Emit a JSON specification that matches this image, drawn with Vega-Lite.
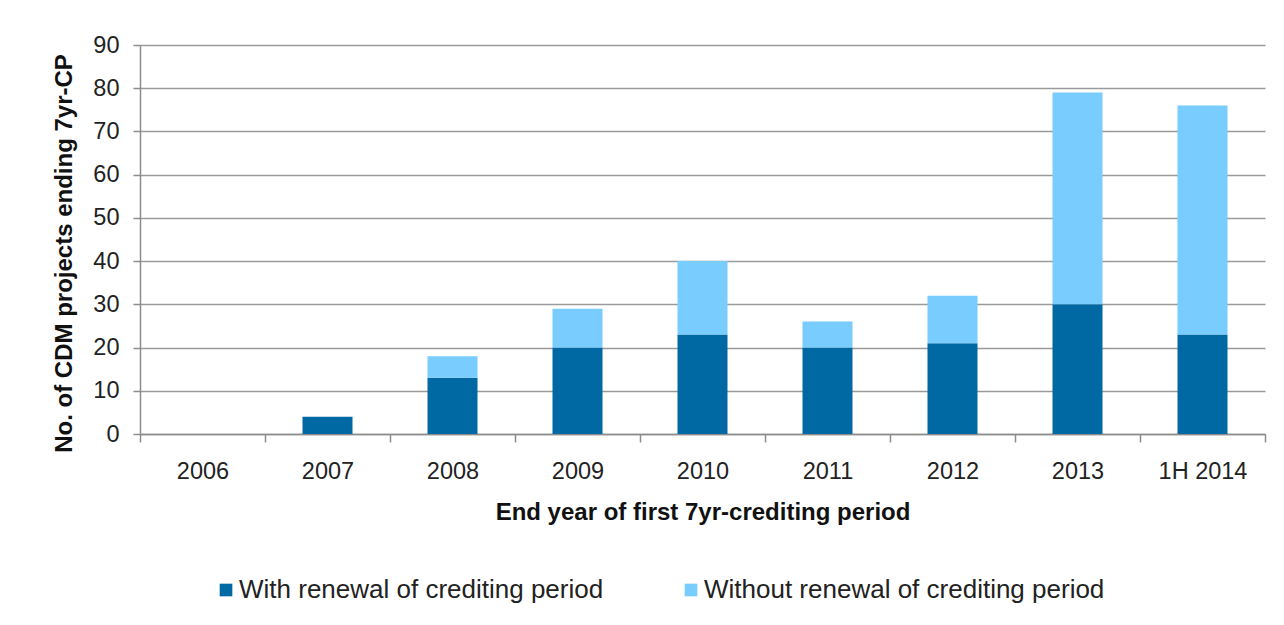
{
  "$schema": "https://vega.github.io/schema/vega-lite/v6.json",
  "width": 1125,
  "height": 389,
  "autosize": {"type": "none"},
  "padding": {"left": 140, "top": 45, "right": 19, "bottom": 191},
  "background": "white",
  "data": {
    "values": [
      {"year": "2006", "type": "With renewal of crediting period", "n": 0},
      {"year": "2006", "type": "Without renewal of crediting period", "n": 0},
      {"year": "2007", "type": "With renewal of crediting period", "n": 4},
      {"year": "2007", "type": "Without renewal of crediting period", "n": 0},
      {"year": "2008", "type": "With renewal of crediting period", "n": 13},
      {"year": "2008", "type": "Without renewal of crediting period", "n": 5},
      {"year": "2009", "type": "With renewal of crediting period", "n": 20},
      {"year": "2009", "type": "Without renewal of crediting period", "n": 9},
      {"year": "2010", "type": "With renewal of crediting period", "n": 23},
      {"year": "2010", "type": "Without renewal of crediting period", "n": 17},
      {"year": "2011", "type": "With renewal of crediting period", "n": 20},
      {"year": "2011", "type": "Without renewal of crediting period", "n": 6},
      {"year": "2012", "type": "With renewal of crediting period", "n": 21},
      {"year": "2012", "type": "Without renewal of crediting period", "n": 11},
      {"year": "2013", "type": "With renewal of crediting period", "n": 30},
      {"year": "2013", "type": "Without renewal of crediting period", "n": 49},
      {"year": "1H 2014", "type": "With renewal of crediting period", "n": 23},
      {"year": "1H 2014", "type": "Without renewal of crediting period", "n": 53}
    ]
  },
  "mark": {"type": "bar", "width": {"band": 0.4}},
  "encoding": {
    "x": {
      "field": "year",
      "type": "nominal",
      "sort": null,
      "scale": {"paddingInner": 0, "paddingOuter": 0},
      "axis": {
        "title": "End year of first 7yr-crediting period",
        "labelAngle": 0,
        "tickBand": "extent",
        "tickSize": 8,
        "labelPadding": 17,
        "titlePadding": 18
      }
    },
    "y": {
      "field": "n",
      "type": "quantitative",
      "stack": "zero",
      "scale": {"domain": [0, 90]},
      "axis": {
        "title": "No. of CDM projects ending 7yr-CP",
        "values": [0, 10, 20, 30, 40, 50, 60, 70, 80, 90],
        "tickSize": 7,
        "labelPadding": 14,
        "titlePadding": 16,
        "titleY": 208,
        "grid": true
      }
    },
    "color": {
      "field": "type",
      "type": "nominal",
      "scale": {
        "domain": ["With renewal of crediting period", "Without renewal of crediting period"],
        "range": ["#0068A2", "#78CCFE"]
      },
      "legend": {
        "title": null,
        "orient": "none",
        "direction": "horizontal",
        "legendX": 73,
        "legendY": 532,
        "symbolType": "square",
        "symbolSize": 160,
        "symbolStrokeWidth": 0,
        "labelFontSize": 26,
        "labelFont": "Liberation Sans",
        "labelColor": "#222222",
        "labelLimit": 600,
        "columnPadding": 74,
        "labelOffset": 0
      }
    },
    "order": {"field": "type", "sort": "ascending"}
  },
  "config": {
    "view": {"stroke": null},
    "axis": {
      "labelFont": "Liberation Sans",
      "labelFontSize": 23.5,
      "labelColor": "#222222",
      "titleFont": "Liberation Sans",
      "titleFontSize": 24,
      "titleFontWeight": "bold",
      "titleColor": "#111111",
      "domainColor": "#8c8c8c",
      "domainWidth": 1.5,
      "tickColor": "#8c8c8c",
      "tickWidth": 1.5,
      "gridColor": "#9a9a9a",
      "gridWidth": 1.5
    }
  }
}
